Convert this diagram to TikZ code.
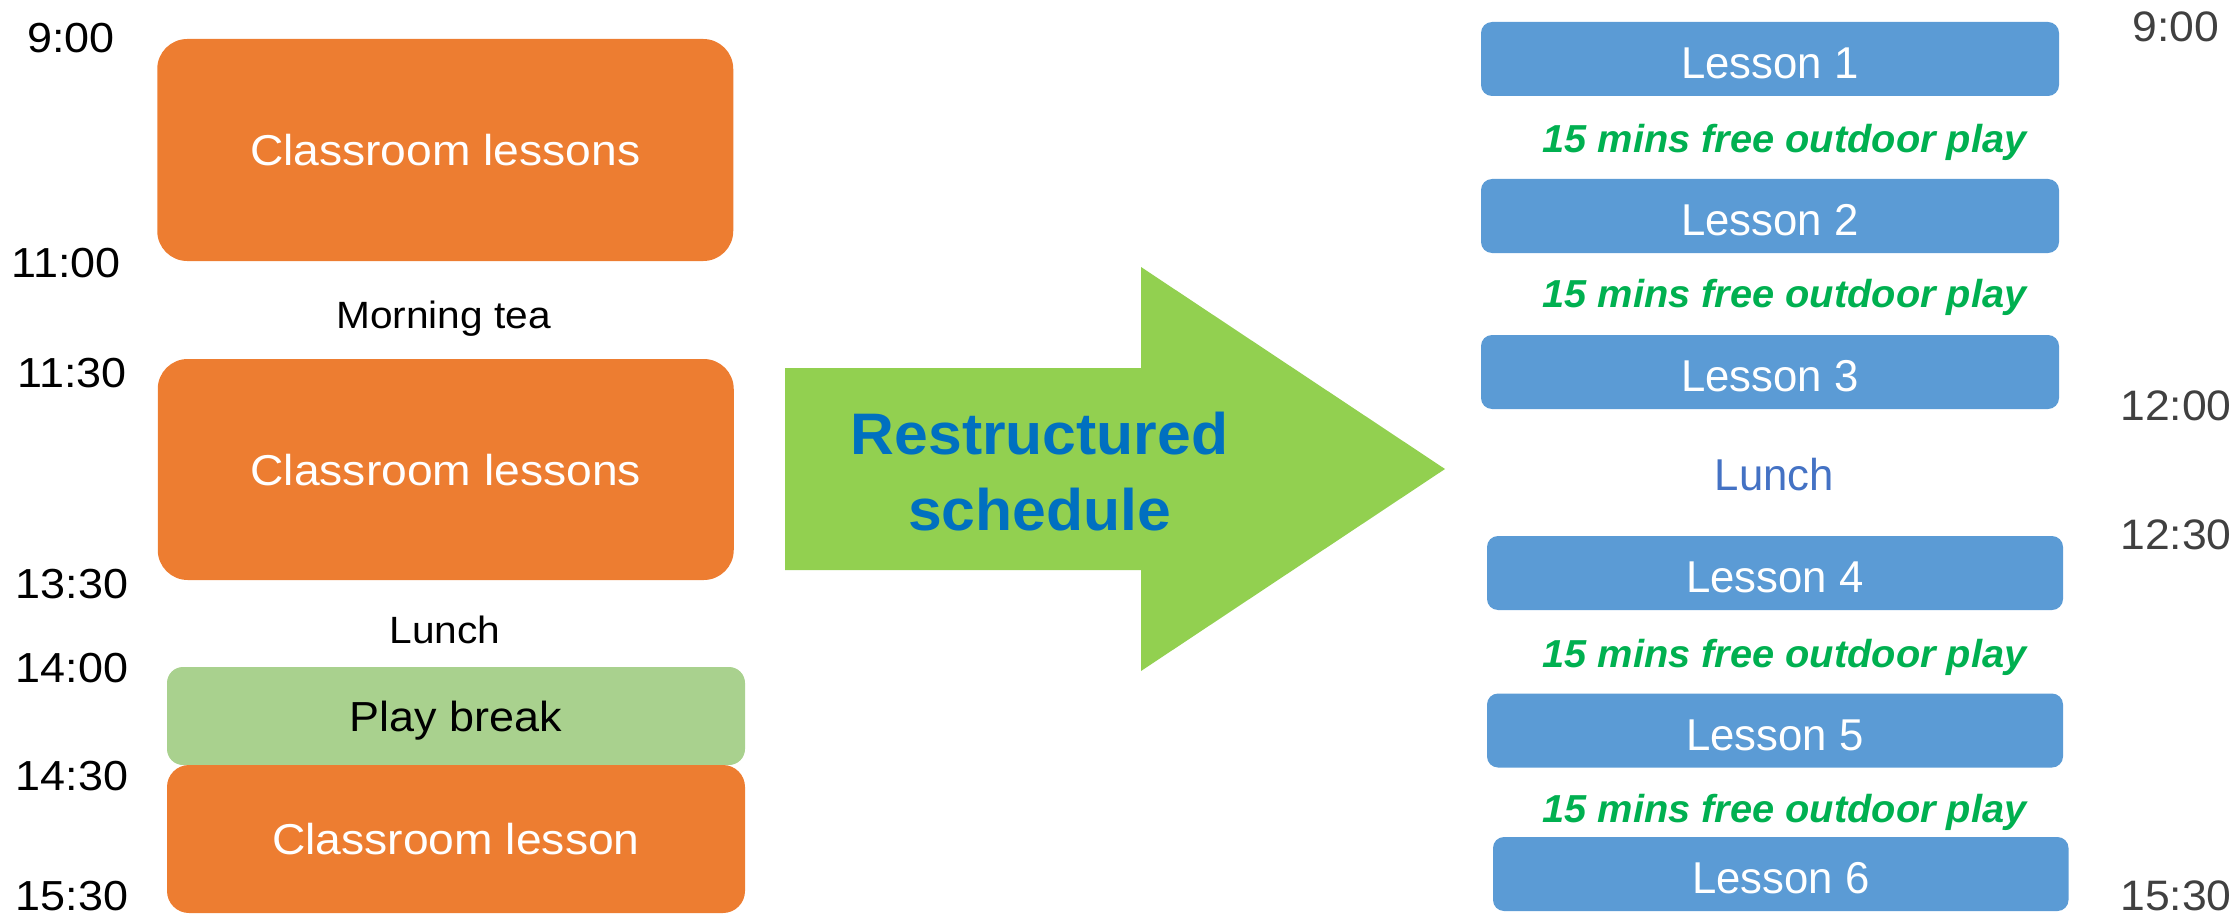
\documentclass[tikz,border=0pt]{standalone}
\usepackage{fontspec}
\setmainfont{Liberation Sans}
\newfontfamily\bodyfont[FakeStretch=1.07]{Liberation Sans}
\newfontfamily\lessonfont[FakeStretch=0.98]{Liberation Sans}
\newfontfamily\clockfont[FakeStretch=1.045]{Liberation Sans}
\newfontfamily\headfont[FakeStretch=1.035]{Liberation Sans}
\newfontfamily\outdoorfont[FakeStretch=1.02]{Liberation Sans}
\definecolor{classorange}{HTML}{ED7D31}
\definecolor{playgreen}{HTML}{A9D18E}
\definecolor{arrowgreen}{HTML}{92D050}
\definecolor{lessonblue}{HTML}{5B9BD5}
\definecolor{headblue}{HTML}{0070C0}
\definecolor{outdoorgreen}{HTML}{00B050}
\definecolor{lunchblue}{HTML}{4472C4}
\definecolor{timegray}{HTML}{404040}

\begin{document}
\begin{tikzpicture}[x=0.5pt,y=-0.5pt,
    classbox/.style={fill=classorange, inner sep=0pt, minimum width=288pt, text=white, text depth=0pt, font=\bodyfont\fontsize{21.6}{24}\selectfont},
    playbox/.style={fill=playgreen, rounded corners=8pt, inner sep=0pt, minimum width=289pt, minimum height=49pt, text depth=0pt, font=\bodyfont\fontsize{21}{24}\selectfont},
    lessonbox/.style={fill=lessonblue, rounded corners=5.5pt, inner sep=0pt, minimum width=289pt, minimum height=37pt, text=white, text height=19.5pt, text depth=0pt, font=\lessonfont\fontsize{22.3}{25}\selectfont},
    lefttime/.style={anchor=base, inner sep=0pt, font=\bodyfont\fontsize{21}{24}\selectfont},
    righttime/.style={anchor=base, inner sep=0pt, text=timegray, font=\clockfont\fontsize{21.3}{24}\selectfont},
    breaklabel/.style={anchor=base, inner sep=0pt, font=\bodyfont\fontsize{19}{22}\selectfont},
    outdoor/.style={anchor=base, inner sep=0pt, text=outdoorgreen, font=\outdoorfont\fontsize{19.5}{22}\bfseries\itshape\selectfont},
    headline/.style={anchor=base, inner sep=0pt, text=headblue, font=\headfont\fontsize{29.3}{34}\bfseries\selectfont}]
        \useasboundingbox (0,0) rectangle (2239,915);

        \node[lefttime] (t900) at (71,53) {9:00};
        \node[lefttime] (t1100) at (66,277) {11:00};
        \node[lefttime] (t1130) at (72,387) {11:30};
        \node[lefttime] (t1330) at (72,598) {13:30};
        \node[lefttime] (t1400) at (72,682) {14:00};
        \node[lefttime] (t1430) at (72,790) {14:30};
        \node[lefttime] (t1530) at (72,910) {15:30};

        \node[classbox, rounded corners=15pt, minimum height=111pt] (class1) at (445.25,150) {Classroom lessons};
        \node[breaklabel] (tea) at (443.5,328) {Morning tea};
        \node[classbox, rounded corners=15pt, minimum height=110.5pt] (class2) at (445.75,469.5) {Classroom lessons};
        \node[breaklabel] (lunchold) at (445,643) {Lunch};
        \node[playbox] (play) at (456,716) {Play break};
        \node[classbox, rounded corners=11pt, minimum width=289pt, minimum height=74pt] (class3) at (456,839) {Classroom lesson};

        \fill[arrowgreen] (785,368) -- (1141,368) -- (1141,267) -- (1445,469) -- (1141,671) -- (1141,570) -- (785,570) -- cycle;
        \node[headline] (headtop) at (1039.5,454) {Restructured};
        \node[headline] (headbottom) at (1039.5,530) {schedule};

        \node[lessonbox] (lesson1) at (1770,59) {Lesson 1};
        \node[outdoor] (play1) at (1784.5,153) {15 mins free outdoor play};
        \node[lessonbox] (lesson2) at (1770,216) {Lesson 2};
        \node[outdoor] (play2) at (1784.5,307) {15 mins free outdoor play};
        \node[lessonbox] (lesson3) at (1770,372) {Lesson 3};
        \node[anchor=base, inner sep=0pt, text=lunchblue, font=\lessonfont\fontsize{22.3}{25}\selectfont] (lunchnew) at (1774.5,490) {Lunch};
        \node[lessonbox, minimum width=288pt] (lesson4) at (1775,573) {Lesson 4};
        \node[outdoor] (play3) at (1784.5,667) {15 mins free outdoor play};
        \node[lessonbox, minimum width=288pt] (lesson5) at (1775,730.5) {Lesson 5};
        \node[outdoor] (play4) at (1784.5,822) {15 mins free outdoor play};
        \node[lessonbox, minimum width=287.75pt] (lesson6) at (1780.75,874) {Lesson 6};

        \node[righttime] (r900) at (2176,42) {9:00};
        \node[righttime] (r1200) at (2176,420) {12:00};
        \node[righttime] (r1230) at (2176,549) {12:30};
        \node[righttime] (r1530) at (2176,910) {15:30};
    \end{tikzpicture}
\end{document}
